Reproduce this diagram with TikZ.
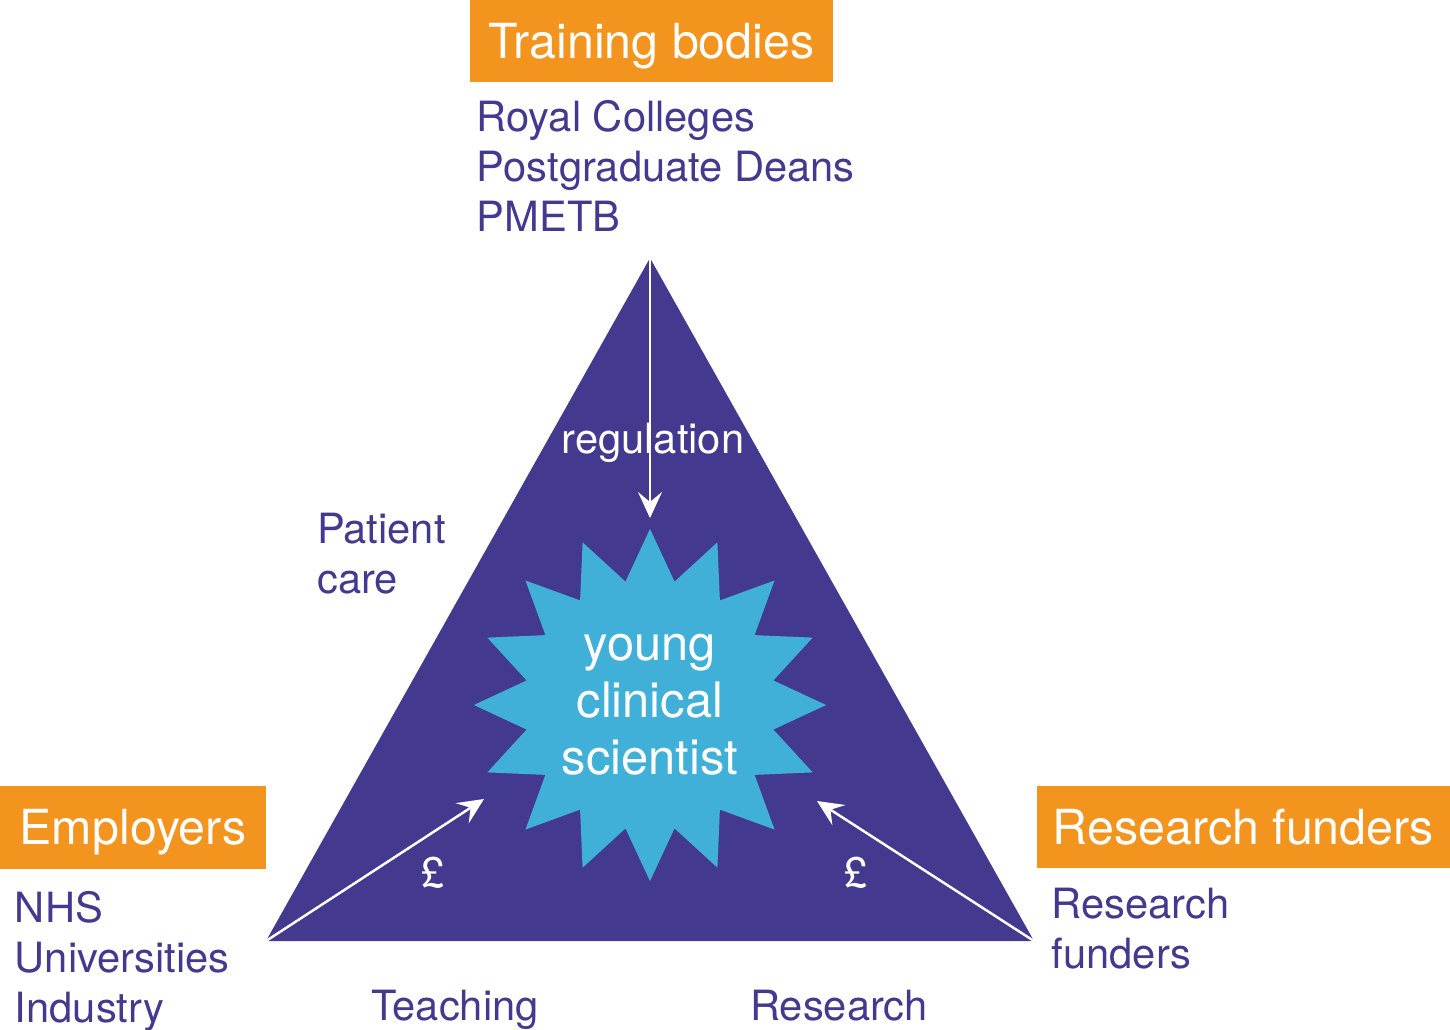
\documentclass[tikz,border=0pt]{standalone}
\usepackage{fontspec}
\setmainfont{TeX Gyre Heros}
\usetikzlibrary{arrows.meta,shapes.geometric,positioning}
\definecolor{tripurple}{RGB}{67,58,143}
\definecolor{starblue}{RGB}{64,176,216}
\definecolor{boxorange}{RGB}{242,148,30}

\begin{document}
\begin{tikzpicture}[x=0.01cm,y=-0.01cm,
  >={Stealth[length=2.6mm,width=2.4mm,inset=1mm]},line width=0.7pt]
  \tikzstyle{header}=[fill=boxorange,text=white,inner sep=0pt,
    minimum height=0.82cm,text height=0.34cm,text depth=0cm,
    font=\fontsize{13.75}{16}\selectfont]
  \tikzstyle{members}=[text=tripurple,align=left,anchor=north west,
    inner sep=0pt,font=\fontsize{11.85}{14.2}\selectfont]
  \tikzstyle{flow}=[->,draw=white]
  \tikzstyle{money}=[text=white,font=\fontsize{11.85}{14}\selectfont]

  \useasboundingbox (0,0) rectangle (1450,1029);

  % the triangle
  \coordinate (apex) at (650,258);
  \coordinate (lcorner) at (266,941);
  \coordinate (rcorner) at (1034,941);
  \fill[tripurple] (apex) -- (lcorner) -- (rcorner) -- cycle;

  \node[star,star points=16,star point ratio=1.4,minimum size=3.52cm,
    fill=starblue,text=white,inner sep=0pt,align=center,
    font=\fontsize{13.9}{16.2}\selectfont] (yng) at (650,705)
    {young\\clinical\\scientist};

  % the three corners
  \node[header,minimum width=3.63cm] (train) at (651.5,41) {Training bodies};
  \node[header,minimum width=2.66cm] (emp) at (133,827.5) {Employers};
  \node[header,minimum width=4.13cm] (fund) at (1243.5,827) {Research funders};

  \node[members,below right=0.16cm and 0.07cm of train.south west] (trainlist)
    {Royal Colleges\\Postgraduate Deans\\PMETB};
  \node[members,below right=0.20cm and 0.15cm of emp.south west] (emplist)
    {NHS\\Universities\\Industry};
  \node[members,below right=0.18cm and 0.15cm of fund.south west] (fundlist)
    {Research\\funders};

  \node[members] (care) at (316,512) {Patient\\care};
  \node[members] (teach) at (370,989) {Teaching};
  \node[members] (res) at (749,989) {Research};

  % flows into the centre
  \node[money,anchor=base] (reg) at (653,453) {regulation};
  \node[money] (lpound) at (433,873) {£};
  \node[money] (rpound) at (856,873) {£};

  \coordinate (regtip) at (650,518);
  \coordinate (ltip) at (484,799);
  \coordinate (rtip) at (817,801);
  \draw[flow] (apex) -- (regtip);
  \draw[flow] (lcorner) -- (ltip);
  \draw[flow] (rcorner) -- (rtip);
\end{tikzpicture}
\end{document}
